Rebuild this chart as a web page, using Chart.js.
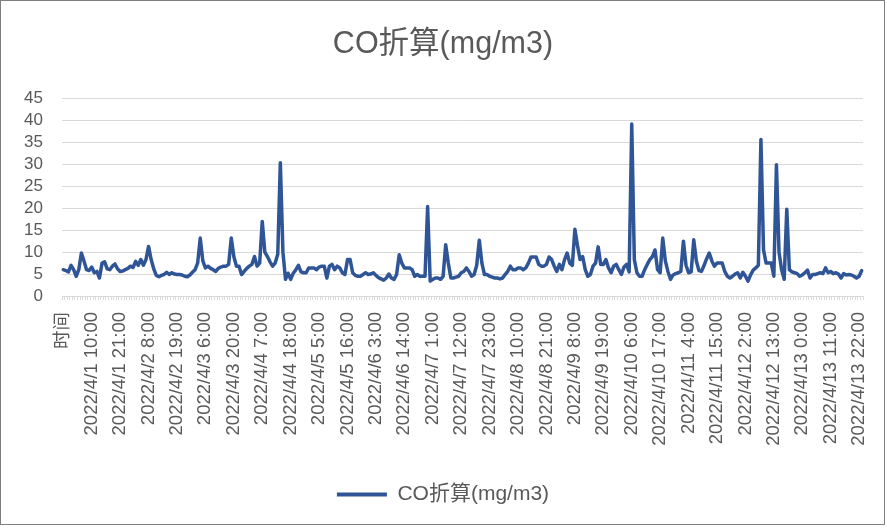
<!DOCTYPE html>
<html>
<head>
<meta charset="utf-8">
<title>CO折算(mg/m3)</title>
<script src="https://cdn.jsdelivr.net/npm/chart.js@4.4.1/dist/chart.umd.min.js"></script>
<style>
  html, body { margin: 0; padding: 0; background: #fff; }
  #wrap { width: 887px; height: 528px; }
</style>
</head>
<body>
<div id="wrap"><canvas id="co-chart" width="887" height="528"></canvas></div>
<script>
// hourly CO readings, 2022/4/1 0:00 – 2022/4/13 23:00 (first row is the header cell "时间")
const seriesName = 'CO折算(mg/m3)';
const headerLabel = '时间';
const days = [1, 2, 3, 4, 5, 6, 7, 8, 9, 10, 11, 12, 13];
const missingHours = { 3: [12, 13, 14] };   // hours with no record
const labelEvery = 11;

const coValues = [
  6.0, 5.8, 5.5, 7.0, 6.0, 4.5, 6.0, 9.8, 8.0, 6.0,
  5.8, 6.6, 5.3, 5.6, 4.1, 7.5, 7.8, 6.2, 6.0, 6.8,
  7.3, 6.2, 5.6, 5.7, 6.0, 6.3, 6.8, 6.5, 7.9, 7.0,
  8.3, 7.0, 8.3, 11.3, 8.3, 6.2, 4.7, 4.4, 4.7, 4.9,
  5.4, 4.9, 5.3, 5.0, 4.9, 4.9, 4.8, 4.5, 4.4, 4.8,
  5.4, 6.0, 7.5, 13.2, 8.0, 6.4, 6.8, 6.3, 6.0, 5.6,
  6.3, 6.6, 6.8, 6.8, 7.2, 13.2, 9.0, 6.8, 6.8, 4.9,
  5.6, 6.3, 6.8, 7.2, 9.0, 6.8, 7.5, 17.0, 10.0, 9.0,
  7.8, 6.8, 7.5, 9.5, 30.4, 10.0, 3.8, 5.2, 3.8, 5.2,
  6.0, 7.0, 5.5, 5.3, 5.3, 6.4, 6.4, 6.4, 6.0, 6.6,
  6.8, 6.8, 4.1, 6.8, 7.2, 6.0, 6.8, 6.4, 5.3, 4.9,
  8.3, 8.3, 5.3, 4.7, 4.5, 4.5, 4.9, 5.3, 4.9, 5.0,
  5.3, 4.7, 4.2, 3.9, 3.6, 4.1, 5.0, 4.1, 3.8, 4.9,
  9.4, 7.5, 6.4, 6.4, 6.4, 6.0, 4.5, 4.9, 4.5, 4.5,
  4.5, 20.4, 3.4, 3.8, 4.1, 4.1, 3.8, 4.5, 11.7, 7.5,
  4.1, 4.1, 4.3, 4.5, 5.3, 5.6, 6.4, 5.6, 4.5, 4.9,
  7.0, 12.7, 7.5, 4.9, 4.9, 4.5, 4.3, 4.1, 4.1, 3.9,
  4.1, 4.9, 5.6, 6.8, 6.0, 6.0, 6.4, 6.4, 6.0, 6.4,
  7.5, 8.9, 8.9, 8.9, 7.2, 6.8, 6.8, 7.2, 8.9, 8.3,
  6.8, 5.6, 7.2, 6.0, 8.3, 9.8, 7.5, 7.0, 15.2, 11.5,
  8.3, 9.0, 6.0, 4.5, 4.9, 6.8, 7.5, 11.2, 7.2, 7.2,
  8.3, 6.4, 5.3, 6.8, 7.2, 6.0, 4.9, 6.6, 7.2, 5.5,
  39.2, 8.3, 5.3, 4.5, 4.5, 6.0, 7.2, 8.3, 9.0, 10.5,
  6.0, 5.3, 13.2, 8.0, 5.6, 3.8, 4.8, 5.1, 5.3, 5.6,
  12.5, 7.0, 5.3, 5.5, 12.8, 8.0, 5.8, 5.6, 7.0, 8.5,
  9.8, 8.0, 6.8, 7.5, 7.5, 7.5, 5.6, 4.5, 4.1, 4.5,
  5.0, 5.3, 4.1, 5.4, 4.5, 3.4, 4.8, 5.9, 6.4, 7.0,
  35.7, 10.5, 7.5, 7.5, 7.5, 4.5, 29.9, 10.0, 6.0, 3.8,
  19.8, 6.0, 5.5, 5.3, 5.1, 4.5, 4.8, 5.3, 5.9, 4.1,
  4.9, 4.9, 5.1, 5.3, 5.1, 6.4, 5.3, 5.6, 5.1, 5.3,
  5.0, 4.1, 5.1, 4.8, 4.9, 4.8, 4.5, 4.1, 4.5, 5.8
];

const yTicks = { min: 0, max: 45, step: 5 };

// time labels in the sheet's own format, e.g. "2022/4/3 6:00"
const timeLabels = [headerLabel];
days.forEach(d => {
  for (let h = 0; h < 24; h++) {
    if ((missingHours[d] || []).includes(h)) continue;
    timeLabels.push(`2022/4/${d} ${h}:00`);
  }
});

const lineColor = '#2f5597';
const textColor = '#595959';
const gridColor = '#d9d9d9';
const fontFamily = '"Liberation Sans", "Noto Sans CJK SC", sans-serif';

// white page plus the thin frame around the chart object
const frame = {
  id: 'frame',
  beforeDraw(chart) {
    const ctx = chart.ctx;
    ctx.save();
    ctx.fillStyle = '#fff';
    ctx.fillRect(0, 0, chart.width, chart.height);
    ctx.restore();
  },
  afterDraw(chart) {
    const ctx = chart.ctx;
    ctx.save();
    ctx.strokeStyle = '#7f7f7f';
    ctx.lineWidth = 1;
    ctx.strokeRect(0.5, 0.5, 884, 524);
    ctx.restore();
  }
};

new Chart(document.getElementById('co-chart'), {
  type: 'line',
  data: {
    labels: timeLabels,
    datasets: [{
      label: seriesName,
      data: coValues,
      borderColor: lineColor,
      backgroundColor: lineColor,
      borderWidth: 3.5,
      pointRadius: 0,
      tension: 0,
      borderJoinStyle: 'round',
      borderCapStyle: 'round'
    }]
  },
  options: {
    responsive: false,
    animation: false,
    layout: { padding: { left: 23, right: 24, top: 0, bottom: 13 } },
    plugins: {
      tooltip: { enabled: false },
      title: {
        display: true,
        text: seriesName,
        color: textColor,
        font: { family: fontFamily, size: 30.5, weight: 'normal' },
        padding: { top: 26, bottom: 36 }
      },
      legend: {
        position: 'bottom',
        labels: {
          color: textColor,
          font: { family: fontFamily, size: 21 },
          boxWidth: 50,
          boxHeight: 4,
          padding: 10,
          generateLabels(chart) {
            const items = Chart.defaults.plugins.legend.labels.generateLabels(chart);
            items.forEach(it => { it.lineWidth = 0; it.fillStyle = lineColor; });
            return items;
          }
        }
      }
    },
    scales: {
      x: {
        offset: true,
        grid: {
          display: true,
          offset: true,
          drawOnChartArea: false,
          drawTicks: true,
          tickLength: 4,
          color: gridColor
        },
        border: { display: true, color: gridColor },
        ticks: {
          autoSkip: false,
          minRotation: 90,
          maxRotation: 90,
          padding: 12,
          color: textColor,
          font: { family: fontFamily, size: 18.5 },
          callback: (v, i) => (i % labelEvery === 0 ? timeLabels[i] : '')
        },
        afterFit: s => {
          s.height = 178;
          s.paddingLeft = 0;
          s.paddingRight = 0;
        }
      },
      y: {
        min: yTicks.min,
        max: yTicks.max,
        grid: { color: gridColor, drawTicks: false },
        border: { display: false },
        ticks: {
          stepSize: yTicks.step,
          autoSkip: false,
          padding: 19,
          color: textColor,
          font: { family: fontFamily, size: 17 }
        },
        afterFit: s => { s.width = 39; }
      }
    }
  },
  plugins: [frame]
});
</script>
</body>
</html>
